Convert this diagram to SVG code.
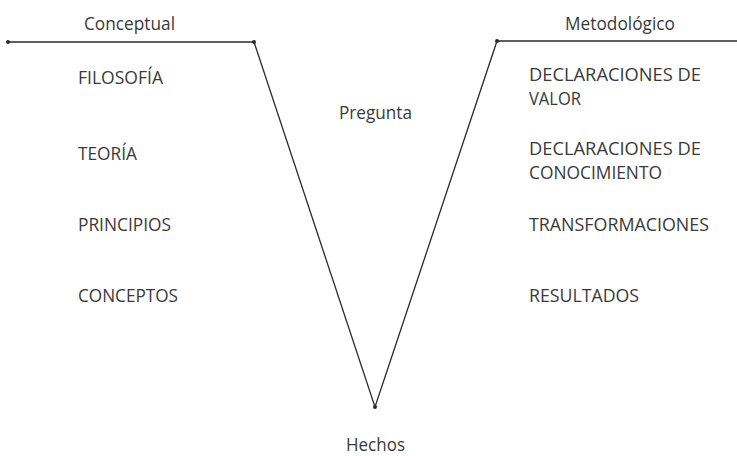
<svg xmlns="http://www.w3.org/2000/svg" width="737" height="456" viewBox="0 0 737 456">
<style>
text{font-family:"Open Sans","Liberation Sans",sans-serif;font-size:19px;fill:#3a3a3a}
.h{font-size:18px}
.ln{stroke:#2a2a2a;stroke-width:1.3;fill:none}
.dot{fill:#2a2a2a}
</style>
<rect width="737" height="456" fill="#fff"/>
<g id="connectors">
<polyline class="ln" points="8,42 254,42 375,407 497,41 737,41"/>
<circle class="dot" cx="8" cy="42" r="2"/>
<circle class="dot" cx="254" cy="42" r="2"/>
<circle class="dot" cx="375" cy="407" r="2"/>
<circle class="dot" cx="497" cy="41" r="2"/>
</g>
<g id="conceptual"><text class="h" x="84" y="30" textLength="91" lengthAdjust="spacingAndGlyphs">Conceptual</text></g>
<g id="metodologico"><text class="h" x="565" y="30" textLength="110" lengthAdjust="spacingAndGlyphs">Metodológico</text></g>
<g id="pregunta"><text class="h" x="339" y="119" textLength="73" lengthAdjust="spacingAndGlyphs">Pregunta</text></g>
<g id="hechos"><text class="h" x="346" y="451" textLength="59" lengthAdjust="spacingAndGlyphs">Hechos</text></g>
<g id="filosofia"><text x="78" y="84" textLength="85" lengthAdjust="spacingAndGlyphs">FILOSOFÍA</text></g>
<g id="teoria"><text x="78" y="160" textLength="59" lengthAdjust="spacingAndGlyphs">TEORÍA</text></g>
<g id="principios"><text x="78" y="231" textLength="93" lengthAdjust="spacingAndGlyphs">PRINCIPIOS</text></g>
<g id="conceptos"><text x="78" y="302" textLength="100" lengthAdjust="spacingAndGlyphs">CONCEPTOS</text></g>
<g id="valor"><text x="529" y="81" textLength="172" lengthAdjust="spacingAndGlyphs">DECLARACIONES DE</text><text x="529" y="105" textLength="52" lengthAdjust="spacingAndGlyphs">VALOR</text></g>
<g id="conocimiento"><text x="529" y="155" textLength="172" lengthAdjust="spacingAndGlyphs">DECLARACIONES DE</text><text x="529" y="179" textLength="133" lengthAdjust="spacingAndGlyphs">CONOCIMIENTO</text></g>
<g id="transformaciones"><text x="529" y="231" textLength="180" lengthAdjust="spacingAndGlyphs">TRANSFORMACIONES</text></g>
<g id="resultados"><text x="529" y="302" textLength="110" lengthAdjust="spacingAndGlyphs">RESULTADOS</text></g>
</svg>
